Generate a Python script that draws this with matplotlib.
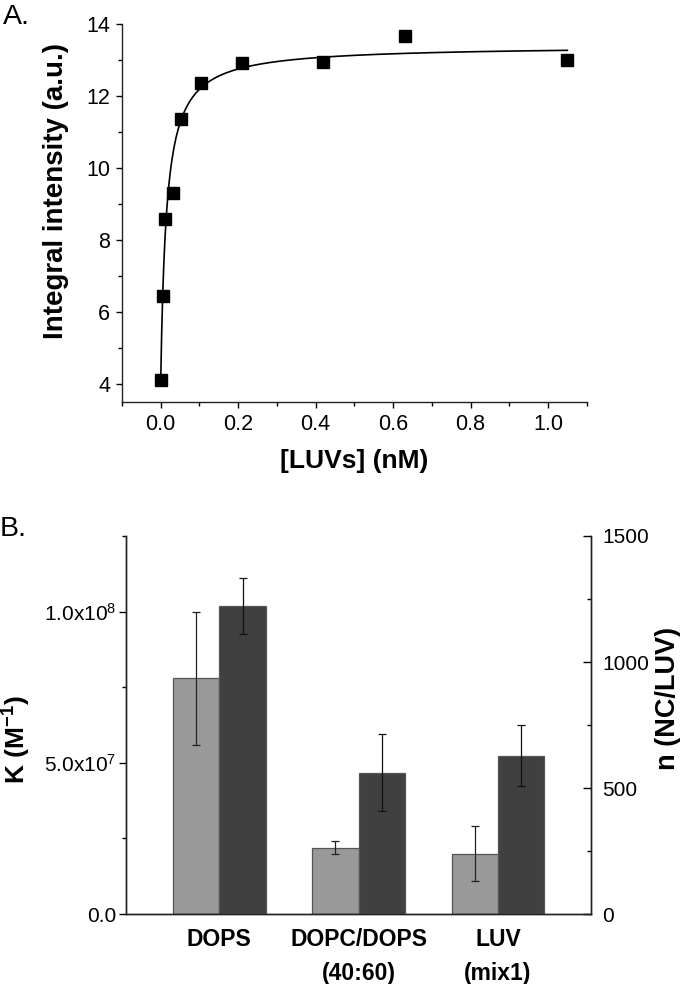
import numpy as np
import matplotlib
matplotlib.use("Agg")
import matplotlib.pyplot as plt
from matplotlib.ticker import MultipleLocator, FixedLocator, FuncFormatter

plt.rcParams['font.family'] = ['Liberation Sans', 'DejaVu Sans']
plt.rcParams['mathtext.fontset'] = 'custom'
plt.rcParams['mathtext.rm'] = 'Liberation Sans'
plt.rcParams['mathtext.it'] = 'Liberation Sans:italic'
plt.rcParams['mathtext.bf'] = 'Liberation Sans:bold'

# ---- Panel A data ----
luv_conc = [0.0, 0.006, 0.0105, 0.0315, 0.0525, 0.105, 0.21, 0.42, 0.63, 1.05]
intensity = [4.12, 6.45, 8.58, 9.31, 11.37, 12.35, 12.93, 12.94, 13.68, 13.01]
# hyperbolic binding fit parameters
fit_y0 = 4.1
fit_bmax = 9.3
fit_kd = 0.015

# ---- Panel B data ----
categories = ['DOPS', 'DOPC/DOPS\n(40:60)', 'LUV\n(mix1)']
K_values = [7.8e7, 2.2e7, 2.0e7]
K_errors = [2.2e7, 0.2e7, 0.9e7]
n_values = [1222, 560, 628]
n_errors = [110, 153, 121]

fig = plt.figure(figsize=(6.8, 9.84), dpi=100)

# ===== Panel A =====
axA = fig.add_axes([0.1794, 0.5915, 0.6834, 0.3841])
xfit = np.linspace(0, max(luv_conc), 400)
yfit = fit_y0 + fit_bmax * xfit / (fit_kd + xfit)
axA.plot(xfit, yfit, color='black', lw=1.2, zorder=2)
axA.plot(luv_conc, intensity, 's', color='black', ms=8, zorder=3)
axA.set_xlim(-0.1, 1.1)
axA.set_ylim(3.5, 14)
axA.spines['top'].set_visible(False)
axA.spines['right'].set_visible(False)
for s in ['left', 'bottom']:
    axA.spines[s].set_linewidth(1.0)
    axA.spines[s].set_color('#222222')
axA.xaxis.set_major_locator(MultipleLocator(0.2))
axA.xaxis.set_minor_locator(MultipleLocator(0.1))
axA.yaxis.set_major_locator(FixedLocator([4, 6, 8, 10, 12, 14]))
axA.yaxis.set_minor_locator(FixedLocator([5, 7, 9, 11, 13]))
axA.xaxis.set_major_formatter(FuncFormatter(lambda v, p: f"{v:.1f}"))
axA.tick_params(which='major', direction='out', length=4.5, width=1.0, labelsize=15.5, pad=4)
axA.tick_params(which='minor', direction='out', length=3, width=1.0)
axA.set_xlabel('[LUVs] (nM)', fontsize=19, fontweight='bold', labelpad=10)
axA.set_ylabel('Integral intensity (a.u.)', fontsize=20, fontweight='bold')
axA.yaxis.set_label_coords(-0.115, 0.558)
fig.text(0.004, 0.996, 'A.', fontsize=20.5, ha='left', va='top')

# ===== Panel B =====
axB = fig.add_axes([0.1853, 0.0711, 0.6843, 0.3842])
axB2 = axB.twinx()
x = np.arange(1, len(categories) + 1)
w = 1 / 3
axB.bar(x - w / 2, K_values, width=w, color='#999999', edgecolor='#555555', linewidth=0.9, zorder=2)
axB.errorbar(x - w / 2, K_values, yerr=K_errors, fmt='none', ecolor='#222222', elinewidth=0.9,
             capsize=3, capthick=0.9, zorder=3)
axB2.bar(x + w / 2, n_values, width=w, color='#404040', edgecolor='#555555', linewidth=0.9, zorder=2)
axB2.errorbar(x + w / 2, n_values, yerr=n_errors, fmt='none', ecolor='#111111', elinewidth=0.9,
              capsize=3, capthick=0.9, zorder=3)
axB.set_xlim(0.33, 3.67)
axB.set_ylim(0, 1.25e8)
axB2.set_ylim(0, 1500)
for a in (axB, axB2):
    a.spines['top'].set_visible(False)
    for s in ['left', 'bottom', 'right']:
        a.spines[s].set_linewidth(1.0)
        a.spines[s].set_color('#222222')

def kfmt(v, p):
    if v == 0:
        return '0.0'
    e = int(np.floor(np.log10(v)))
    m = v / 10 ** e
    return f"{m:.1f}x10$^{{{e}}}$"

axB.yaxis.set_major_locator(FixedLocator([0, 5e7, 1e8]))
axB.yaxis.set_minor_locator(FixedLocator([2.5e7, 7.5e7, 1.25e8]))
axB.yaxis.set_major_formatter(FuncFormatter(kfmt))
axB.set_xticks(x)
axB.set_xticklabels(categories, fontsize=16.5, fontweight='bold', linespacing=1.6)
axB.tick_params(axis='x', length=0, pad=10)
axB.tick_params(axis='y', which='major', direction='out', length=5, width=1.0, labelsize=15, pad=2)
axB.tick_params(axis='y', which='minor', direction='out', length=3, width=1.0)
axB2.yaxis.set_major_locator(FixedLocator([0, 500, 1000, 1500]))
axB2.yaxis.set_minor_locator(FixedLocator([250, 750, 1250]))
axB2.tick_params(axis='y', which='major', direction='in', length=6, width=1.0, labelsize=15, pad=8)
axB2.tick_params(axis='y', which='minor', direction='in', length=3, width=1.0)
axB.set_ylabel('K (M$^{\\mathbf{-1}}$)', fontsize=19, fontweight='bold')
axB.yaxis.set_label_coords(-0.2, 0.46)
axB2.set_ylabel('n (NC/LUV)', fontsize=19.5, fontweight='bold')
axB2.yaxis.set_label_coords(1.137, 0.571)
fig.text(0.0, 0.476, 'B.', fontsize=20.5, ha='left', va='top')

fig.savefig('out.png', dpi=100)
